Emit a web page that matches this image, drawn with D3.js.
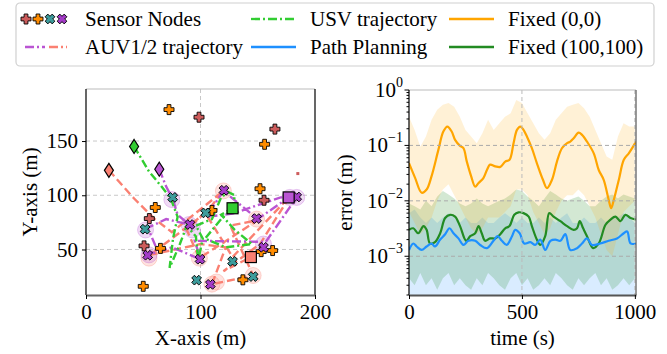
<!DOCTYPE html>
<html>
<head>
<meta charset="utf-8">
<script src="https://cdn.jsdelivr.net/npm/d3@7"></script>
<style>
  body { margin: 0; background: #fff; }
  svg text { font-family: "Liberation Serif", "Tinos", "DejaVu Serif", serif !important; fill: #000; }
</style>
</head>
<body>
<svg id="chart" width="667" height="354"></svg>
<script>
// ---- left panel: sensor nodes and vehicle paths (metres)
const redNodes = [[98.7,172],[165,161],[155.5,95.4],[55.3,78.5],[50.7,53.3]];
const orangeNodes = [[72.5,179],[156,147],[152,106],[60.5,88.7],[50,16],[137,22],[163,49],[153,48],[110,86],[65,51]];
const tealNodes = [[75.7,98],[51.6,68.7],[104.5,83.7],[128,39],[146,25],[96.6,21.7]];
const purpleNodes = [[120.5,104.6],[149,78.5],[155,52],[53.9,44.7],[99.6,41],[108.6,17.8],[90.8,73],[184,98.4]];
const strayPoint = [[185,120]];

const auv1Path = [[20,123],[42,97],[60,78],[75,66],[120,104],[105,84],[56,45],[100,55],[122,52],[110,18],[146,26],[126,72],[150,77],[99,42],[88,68],[104,84],[128,43],[178,99],[152,55],[120,30],[144,43]];
const auv2Path = [[64,124],[70,108],[76,96],[80,82],[90,73],[70,78],[54,70],[62,50],[54,45],[75,52],[100,41],[95,58],[157,57],[184,98],[170,98],[128,83],[105,80],[120,104],[150,78],[177,98]];
const usvPath = [[42,145],[55,122],[66,108],[74,97],[80,80],[76,60],[73,33],[82,55],[88,72],[96,62],[98,40],[102,60],[96,72],[110,78],[118,98],[124,103],[130,100],[128,88],[118,82],[130,68],[145,55],[122,52],[104,60],[118,78],[128,88]];

const auv1Visits = [[120,104],[110,18],[114,20],[146,26],[55,42],[99,42],[149,78]];
const auv2Visits = [[52,68],[75,96],[90,73],[93,68],[155,55],[178,98],[184,98],[55,45]];

// ---- right panel: error over time (m)
const orangeT = [0,27,56,78,100,130,152,170,189,204,226,241,256,275,293,308,330,345,359,382,404,426,445,463,478,493,507,522,544,566,593,611,633,655,677,700,714,729,751,766,788,818,840,862,884,895,907,929,951,973,992,1005];
const orangeErr = [0.048,0.026,0.014,0.016,0.028,0.083,0.178,0.219,0.178,0.126,0.098,0.089,0.051,0.028,0.018,0.021,0.026,0.036,0.045,0.042,0.041,0.051,0.055,0.110,0.191,0.219,0.191,0.145,0.089,0.048,0.024,0.017,0.024,0.051,0.089,0.110,0.117,0.135,0.170,0.155,0.117,0.072,0.036,0.024,0.0105,0.0074,0.0105,0.024,0.055,0.072,0.095,0.117];

const greenT = [0,19,41,64,78,93,115,138,160,182,204,226,253,271,293,308,322,337,359,382,404,426,445,466,485,507,530,544,566,581,603,621,640,670,700,729,744,756,771,788,815,840,870,892,914,936,958,981,1005];
const greenErr = [0.0030,0.0032,0.0026,0.0035,0.0030,0.0017,0.0018,0.0026,0.0049,0.0056,0.0052,0.0035,0.0019,0.0023,0.0026,0.0035,0.0026,0.0019,0.0021,0.0021,0.0025,0.0032,0.0035,0.0056,0.0062,0.0060,0.0052,0.0035,0.0020,0.0016,0.0023,0.0060,0.0052,0.0043,0.0035,0.0030,0.0032,0.0043,0.0032,0.0023,0.0014,0.0017,0.0037,0.0046,0.0052,0.0043,0.0056,0.0049,0.0046];

const blueT = [0,19,34,56,78,100,115,138,160,179,197,219,241,263,293,315,345,374,392,411,433,456,470,490,510,537,559,581,603,626,648,670,692,714,744,766,788,810,847,884,921,951,966,981,1005];
const blueErr = [0.0013,0.0017,0.0015,0.0013,0.0015,0.0017,0.0015,0.0020,0.0025,0.0032,0.0026,0.0021,0.0016,0.0019,0.0019,0.0016,0.0014,0.0019,0.0023,0.0019,0.0016,0.0023,0.0030,0.0026,0.0017,0.0018,0.0016,0.0020,0.0013,0.0019,0.0020,0.0019,0.0025,0.0013,0.0014,0.0017,0.0021,0.0016,0.0017,0.0019,0.0021,0.0026,0.0028,0.0017,0.0017];

// raw (unsmoothed) spread, sampled every 25 s
const rawT = [0,25,50,75,100,125,150,175,200,225,250,275,300,325,350,375,400,425,450,475,500,525,550,575,600,625,650,675,700,725,750,775,800,825,850,875,900,925,950,975,1000];
const orangeRawHi = [0.33,0.19,0.095,0.145,0.29,0.44,0.54,0.58,0.50,0.33,0.19,0.145,0.11,0.166,0.29,0.19,0.25,0.33,0.38,0.66,0.58,0.38,0.25,0.166,0.126,0.166,0.29,0.38,0.50,0.54,0.58,0.47,0.33,0.19,0.11,0.063,0.055,0.145,0.25,0.22,0.22];
const orangeRawLo = [0.0063,0.004,0.0025,0.0032,0.005,0.01,0.016,0.02,0.0126,0.008,0.005,0.0032,0.0025,0.0032,0.005,0.005,0.005,0.0063,0.008,0.016,0.016,0.0126,0.0063,0.004,0.0025,0.0032,0.0063,0.01,0.0126,0.0126,0.016,0.0126,0.008,0.005,0.0025,0.0013,0.001,0.0025,0.0063,0.008,0.01];
const greenRawHi = [0.009,0.008,0.007,0.01,0.008,0.012,0.015,0.013,0.011,0.009,0.008,0.009,0.011,0.009,0.008,0.009,0.01,0.011,0.013,0.016,0.015,0.012,0.01,0.008,0.011,0.015,0.013,0.011,0.01,0.011,0.012,0.01,0.008,0.008,0.01,0.012,0.013,0.011,0.013,0.012,0.011];
const greenRawLo = [0.0004,0.0003,0.0005,0.0003,0.0004,0.00025,0.0004,0.0005,0.0003,0.0004,0.0003,0.00025,0.0004,0.0003,0.0005,0.0004,0.0003,0.00025,0.0004,0.0005,0.0003,0.0004,0.00025,0.0003,0.0004,0.0003,0.0005,0.0004,0.0003,0.00025,0.0004,0.0003,0.0004,0.0005,0.0003,0.0004,0.00025,0.0003,0.0004,0.0003,0.0004];
const blueRawHi = [0.006,0.007,0.005,0.004,0.005,0.004,0.005,0.006,0.005,0.004,0.005,0.004,0.004,0.005,0.004,0.004,0.005,0.006,0.005,0.004,0.005,0.004,0.004,0.005,0.004,0.005,0.004,0.005,0.006,0.004,0.004,0.005,0.004,0.004,0.005,0.004,0.005,0.005,0.006,0.005,0.004];

const xTicksL = [0,100,200];
const yTicksL = [50,100,150];
const xTicksR = [0,500,1000];
const yTicksR = [1,0.1,0.01,0.001];
const yTickExp = ["0","\u22121","\u22122","\u22123"];

const C = {
  red: "#cd5c5c", orange: "#ff8c00", teal: "#3d9c9c", purple: "#a43cc8",
  salmon: "#fa8072", orchid: "#ba55d3", lime: "#32cd32",
  fixed0: "#ffa500", fixed100: "#228b22", plan: "#1e90ff"
};

const svg = d3.select("#chart");
const FS = 21;

// marker shapes
function plusPath(s) {
  const a = s / 2, b = s * 0.19;
  return `M${-b},${-a}H${b}V${-b}H${a}V${b}H${b}V${a}H${-b}V${b}H${-a}V${-b}H${-b}Z`;
}
function drawNode(g, p, color, isX, sx, sy, s) {
  g.append("path")
    .attr("d", plusPath(s || 10))
    .attr("transform", `translate(${sx ? sx(p[0]) : p[0]},${sy ? sy(p[1]) : p[1]})` + (isX ? " rotate(45)" : ""))
    .attr("fill", color).attr("stroke", "#000").attr("stroke-width", 0.9);
}

// ---------- left panel
const L = { x0: 86, x1: 315, y0: 89, y1: 295 };
const xL = d3.scaleLinear().domain([0, 200]).range([L.x0, L.x1]);
const yL = d3.scaleLinear().domain([8, 198]).range([L.y1, L.y0]);

svg.append("clipPath").attr("id", "clipL").append("rect")
  .attr("x", L.x0).attr("y", L.y0).attr("width", L.x1 - L.x0).attr("height", L.y1 - L.y0);

const gl = svg.append("g");
gl.selectAll(".gx").data([100]).enter().append("line")
  .attr("x1", d => xL(d)).attr("x2", d => xL(d)).attr("y1", L.y0).attr("y2", L.y1)
  .attr("stroke", "#c8c8c8").attr("stroke-dasharray", "4,3");
gl.selectAll(".gy").data(yTicksL).enter().append("line")
  .attr("y1", d => yL(d)).attr("y2", d => yL(d)).attr("x1", L.x0).attr("x2", L.x1)
  .attr("stroke", "#c8c8c8").attr("stroke-dasharray", "4,3");

const plot = gl.append("g").attr("clip-path", "url(#clipL)");
const line = d3.line().x(d => xL(d[0])).y(d => yL(d[1]));

plot.selectAll(".v1").data(auv1Visits).enter().append("circle")
  .attr("cx", d => xL(d[0])).attr("cy", d => yL(d[1])).attr("r", 8)
  .attr("fill", C.salmon).attr("fill-opacity", 0.22).attr("stroke", C.salmon).attr("stroke-opacity", 0.3);
plot.selectAll(".v2").data(auv2Visits).enter().append("circle")
  .attr("cx", d => xL(d[0])).attr("cy", d => yL(d[1])).attr("r", 8)
  .attr("fill", C.orchid).attr("fill-opacity", 0.22).attr("stroke", C.orchid).attr("stroke-opacity", 0.3);

plot.append("path").attr("d", line(auv1Path)).attr("fill", "none")
  .attr("stroke", C.salmon).attr("stroke-width", 2.4).attr("stroke-dasharray", "8,4");
plot.append("path").attr("d", line(auv2Path)).attr("fill", "none")
  .attr("stroke", C.orchid).attr("stroke-width", 2.4).attr("stroke-dasharray", "9,3,2,3");
plot.append("path").attr("d", line(usvPath)).attr("fill", "none")
  .attr("stroke", C.lime).attr("stroke-width", 2.4).attr("stroke-dasharray", "8,3,2,3");

redNodes.forEach(p => drawNode(plot, p, C.red, false, xL, yL));
orangeNodes.forEach(p => drawNode(plot, p, C.orange, false, xL, yL));
tealNodes.forEach(p => drawNode(plot, p, C.teal, true, xL, yL));
purpleNodes.forEach(p => drawNode(plot, p, C.purple, true, xL, yL));
plot.selectAll(".stray").data(strayPoint).enter().append("rect")
  .attr("x", d => xL(d[0]) - 1.5).attr("y", d => yL(d[1]) - 1.5).attr("width", 3).attr("height", 3)
  .attr("fill", C.red);

// start diamonds and end squares
const diamond = "M0,-7L4.5,0L0,7L-4.5,0Z";
[[auv1Path, C.salmon], [auv2Path, C.orchid], [usvPath, C.lime]].forEach(([pts, col]) => {
  const s = pts[0], e = pts[pts.length - 1];
  plot.append("path").attr("d", diamond).attr("transform", `translate(${xL(s[0])},${yL(s[1])})`)
    .attr("fill", col).attr("stroke", "#000").attr("stroke-width", 1.2);
  plot.append("rect").attr("x", xL(e[0]) - 5.5).attr("y", yL(e[1]) - 5.5).attr("width", 11).attr("height", 11)
    .attr("fill", col).attr("stroke", "#000").attr("stroke-width", 1.2);
});

// spines
gl.append("line").attr("x1", L.x0).attr("x2", L.x1).attr("y1", L.y0).attr("y2", L.y0).attr("stroke", "#bbb");
gl.append("line").attr("x1", L.x0).attr("x2", L.x0).attr("y1", L.y0).attr("y2", L.y1).attr("stroke", "#000").attr("stroke-width", 1.2);
gl.append("line").attr("x1", L.x1).attr("x2", L.x1).attr("y1", L.y0).attr("y2", L.y1).attr("stroke", "#000").attr("stroke-width", 1.2);

const axXL = gl.append("g").attr("transform", `translate(0,${L.y1})`)
  .call(d3.axisBottom(xL).tickValues(xTicksL).tickFormat(d3.format("d")).tickSize(4).tickSizeOuter(0).tickPadding(5));
const axYL = gl.append("g").attr("transform", `translate(${L.x0},0)`)
  .call(d3.axisLeft(yL).tickValues(yTicksL).tickFormat(d3.format("d")).tickSize(4).tickSizeOuter(0).tickPadding(4));
axYL.select(".domain").remove();
axXL.select(".domain").attr("stroke", "#666").attr("stroke-width", 2.2);
[axXL, axYL].forEach(a => {
  a.attr("font-family", null).attr("font-size", null);
  a.selectAll("text").attr("font-size", FS).attr("fill", "#000");
  a.selectAll(".tick line").attr("stroke", "#000");
});

svg.append("text").attr("x", (L.x0 + L.x1) / 2).attr("y", 345).attr("text-anchor", "middle")
  .attr("font-size", FS).text("X-axis (m)");
svg.append("text").attr("transform", `translate(37,${(L.y0 + L.y1) / 2}) rotate(-90)`)
  .attr("text-anchor", "middle").attr("font-size", FS).text("Y-axis (m)");

// ---------- right panel
const R = { x0: 409, x1: 636, y0: 90, y1: 295 };
const xR = d3.scaleLinear().domain([0, 1005]).range([R.x0, R.x1]);
const yR = d3.scaleLog().domain([2e-4, 1]).range([R.y1, R.y0]);

svg.append("clipPath").attr("id", "clipR").append("rect")
  .attr("x", R.x0).attr("y", R.y0).attr("width", R.x1 - R.x0).attr("height", R.y1 - R.y0);
const gr = svg.append("g");
const pr = gr.append("g").attr("clip-path", "url(#clipR)");

const band = (hi, lo) => d3.area()
  .x((d, i) => xR(rawT[i]))
  .y0((d, i) => lo ? yR(lo[i]) : R.y1)
  .y1((d, i) => yR(hi[i]))(hi);

pr.append("path").attr("d", band(blueRawHi, null)).attr("fill", C.plan).attr("fill-opacity", 0.17);
pr.append("path").attr("d", band(greenRawHi, greenRawLo)).attr("fill", C.fixed100).attr("fill-opacity", 0.2);
pr.append("path").attr("d", band(orangeRawHi, orangeRawLo)).attr("fill", C.fixed0).attr("fill-opacity", 0.16);

// grid
gr.selectAll(".gxr").data([500, 1000]).enter().append("line")
  .attr("x1", d => xR(d)).attr("x2", d => xR(d)).attr("y1", R.y0).attr("y2", R.y1)
  .attr("stroke", "#bbb").attr("stroke-dasharray", "4,3");
gr.selectAll(".gyr").data(yTicksR.slice(1)).enter().append("line")
  .attr("y1", d => yR(d)).attr("y2", d => yR(d)).attr("x1", R.x0).attr("x2", R.x1)
  .attr("stroke", "#aaa").attr("stroke-dasharray", "4,3");

const smooth = (ts, vs) => d3.line().curve(d3.curveCatmullRom.alpha(0.5))
  .x((d, i) => xR(ts[i])).y(d => yR(d))(vs);
pr.append("path").attr("d", smooth(orangeT, orangeErr)).attr("fill", "none").attr("stroke", C.fixed0).attr("stroke-width", 2.2);
pr.append("path").attr("d", smooth(greenT, greenErr)).attr("fill", "none").attr("stroke", C.fixed100).attr("stroke-width", 2.2);
pr.append("path").attr("d", smooth(blueT, blueErr)).attr("fill", "none").attr("stroke", C.plan).attr("stroke-width", 2.2);

// spines
gr.append("line").attr("x1", R.x0).attr("x2", R.x1).attr("y1", R.y0).attr("y2", R.y0).attr("stroke", "#bbb");
gr.append("line").attr("x1", R.x1).attr("x2", R.x1).attr("y1", R.y0).attr("y2", R.y1).attr("stroke", "#555").attr("stroke-width", 1.2);
gr.append("line").attr("x1", R.x0).attr("x2", R.x0).attr("y1", R.y0).attr("y2", R.y1).attr("stroke", "#000").attr("stroke-width", 1.2);

const axXR = gr.append("g").attr("transform", `translate(0,${R.y1})`)
  .call(d3.axisBottom(xR).tickValues(xTicksR).tickFormat(d3.format("d")).tickSize(4).tickSizeOuter(0).tickPadding(5));
axXR.attr("font-family", null).attr("font-size", null);
axXR.select(".domain").attr("stroke", "#555").attr("stroke-width", 2.2);
axXR.selectAll("text").attr("font-size", FS).attr("fill", "#000");

// log y axis: major + minor ticks
const minor = [];
[1e-4, 1e-3, 1e-2, 1e-1].forEach(dec => { for (let k = 2; k <= 9; k++) { const v = dec * k; if (v >= 2e-4 && v < 1) minor.push(v); } });
gr.selectAll(".mn").data(minor).enter().append("line")
  .attr("x1", R.x0 - 2.5).attr("x2", R.x0).attr("y1", d => yR(d)).attr("y2", d => yR(d)).attr("stroke", "#000");
gr.selectAll(".mj").data(yTicksR).enter().append("line")
  .attr("x1", R.x0 - 4.5).attr("x2", R.x0).attr("y1", d => yR(d)).attr("y2", d => yR(d)).attr("stroke", "#000");
const lab = gr.selectAll(".lab").data(yTicksR).enter().append("text")
  .attr("x", R.x0 - 6).attr("y", d => yR(d) + 7).attr("text-anchor", "end").attr("font-size", FS);
lab.append("tspan").text("10");
lab.append("tspan").attr("dy", -10).attr("font-size", 14).text((d, i) => yTickExp[i]);

svg.append("text").attr("x", (R.x0 + R.x1) / 2).attr("y", 345).attr("text-anchor", "middle")
  .attr("font-size", FS).text("time (s)");
svg.append("text").attr("transform", `translate(352,${(R.y0 + R.y1) / 2}) rotate(-90)`)
  .attr("text-anchor", "middle").attr("font-size", FS).text("error (m)");

// ---------- legend
const lg = svg.append("g");
lg.append("rect").attr("x", 16).attr("y", 3).attr("width", 638).attr("height", 63).attr("rx", 4)
  .attr("fill", "#fff").attr("stroke", "#d0d0d0").attr("stroke-width", 1.2);
const row = [19, 47];
[C.red, C.orange, C.teal, C.purple].forEach((c, i) => drawNode(lg, [26 + i * 12, row[0]], c, i >= 2, null, null, 10));
lg.append("text").attr("x", 85).attr("y", row[0] + 7).attr("font-size", FS).text("Sensor Nodes");
lg.append("line").attr("x1", 25).attr("x2", 45).attr("y1", row[1]).attr("y2", row[1])
  .attr("stroke", C.orchid).attr("stroke-width", 2.3).attr("stroke-dasharray", "9,3,2,3");
lg.append("line").attr("x1", 49).attr("x2", 67).attr("y1", row[1]).attr("y2", row[1])
  .attr("stroke", C.salmon).attr("stroke-width", 2.3).attr("stroke-dasharray", "9,3,2,3");
lg.append("text").attr("x", 85).attr("y", row[1] + 7).attr("font-size", FS).text("AUV1/2 trajectory");

const legendLines = [
  { x: 251, y: row[0], col: C.lime, dash: "9,3,2,3", label: "USV trajectory" },
  { x: 251, y: row[1], col: C.plan, dash: null, label: "Path Planning" },
  { x: 449, y: row[0], col: C.fixed0, dash: null, label: "Fixed (0,0)" },
  { x: 449, y: row[1], col: C.fixed100, dash: null, label: "Fixed (100,100)" }
];
legendLines.forEach(d => {
  lg.append("line").attr("x1", d.x).attr("x2", d.x + 45).attr("y1", d.y).attr("y2", d.y)
    .attr("stroke", d.col).attr("stroke-width", 2.3).attr("stroke-dasharray", d.dash);
  lg.append("text").attr("x", d.x + 59).attr("y", d.y + 7).attr("font-size", FS).text(d.label);
});
</script>
</body>
</html>
